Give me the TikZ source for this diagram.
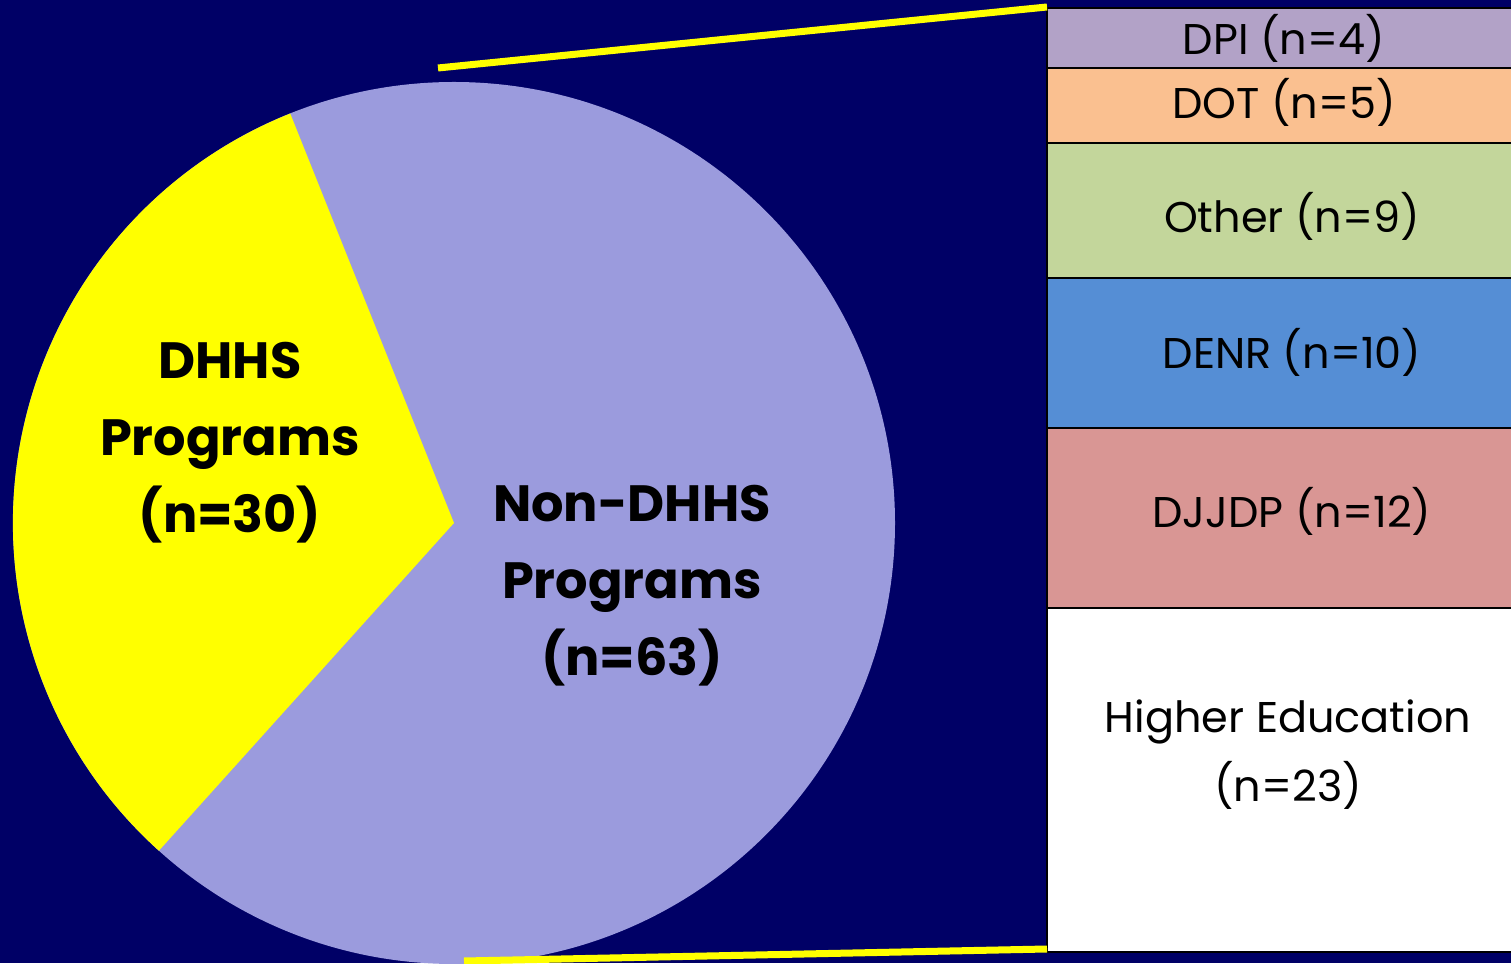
\documentclass[tikz,border=0pt]{standalone}
\usepackage{fontspec}
\setmainfont{Poppins}
\usepackage{tikz}
\usetikzlibrary{positioning}
\usepackage{xcolor}
\definecolor{nvnavy}{RGB}{0,0,102}
\definecolor{nvpie}{RGB}{155,155,221}
\definecolor{nvyellow}{RGB}{255,255,0}
\definecolor{nvdpi}{RGB}{178,162,199}
\definecolor{nvdot}{RGB}{250,192,144}
\definecolor{nvother}{RGB}{195,214,155}
\definecolor{nvdenr}{RGB}{85,142,213}
\definecolor{nvdjjdp}{RGB}{217,150,148}
\tikzstyle{segment} = [draw=black, line width=1.5pt, minimum width=472pt, inner sep=0pt, outer sep=0pt]
\tikzstyle{segtext} = [anchor=base, inner sep=0pt, font=\fontsize{43}{55}\selectfont]
\tikzstyle{pietext} = [align=center, inner sep=0pt, font=\fontsize{51}{77}\selectfont\bfseries]
\tikzstyle{zoomline} = [line width=7pt, color=nvyellow]

\begin{document}
\begin{tikzpicture}[x=1pt, y=1pt]
\useasboundingbox (0,0) rectangle (1511,963);
\fill[nvnavy] (0,0) rectangle (1511,963);

% Pie
\coordinate (pc) at (454,440);
\fill[nvpie] (pc) circle[radius=441];
\fill[nvyellow] (pc) -- ++(111.8:441) arc[start angle=111.8, end angle=228, radius=441] -- cycle;
\node[pietext] (dhhs) at (230,520) {DHHS\\Programs\\(n=30)};
\node[pietext] (nondhhs) at (632,377) {Non-DHHS\\Programs\\(n=63)};

% Breakdown bar
\node[segment, fill=nvdpi, minimum height=60pt, anchor=north west] (dpi) at (1047,955) {};
\node[segment, fill=nvdot, minimum height=75pt, below=0pt of dpi] (dot) {};
\node[segment, fill=nvother, minimum height=135pt, below=0pt of dot] (other) {};
\node[segment, fill=nvdenr, minimum height=150pt, below=0pt of other] (denr) {};
\node[segment, fill=nvdjjdp, minimum height=180pt, below=0pt of denr] (djjdp) {};
\node[segment, fill=white, minimum height=344pt, below=0pt of djjdp] (highered) {};

\node[segtext] (dpilabel) at (1284,908) {DPI (n=4)};
\node[segtext] (dotlabel) at (1284,844) {DOT (n=5)};
\node[segtext] (otherlabel) at (1292,730) {Other (n=9)};
\node[segtext] (denrlabel) at (1292,594) {DENR (n=10)};
\node[segtext] (djjdplabel) at (1292,435) {DJJDP (n=12)};
\node[segtext, anchor=center, align=center, font=\fontsize{43}{69}\selectfont] (higheredlabel) at (1288,208) {Higher Education\\(n=23)};

% Zoom lines
\coordinate (topstart) at (438,895);
\coordinate (topend) at (1047,956);
\coordinate (botstart) at (464,2);
\coordinate (botend) at (1047,14);
\draw[zoomline] (topstart) -- (topend);
\draw[zoomline] (botstart) -- (botend);
\end{tikzpicture}
\end{document}
